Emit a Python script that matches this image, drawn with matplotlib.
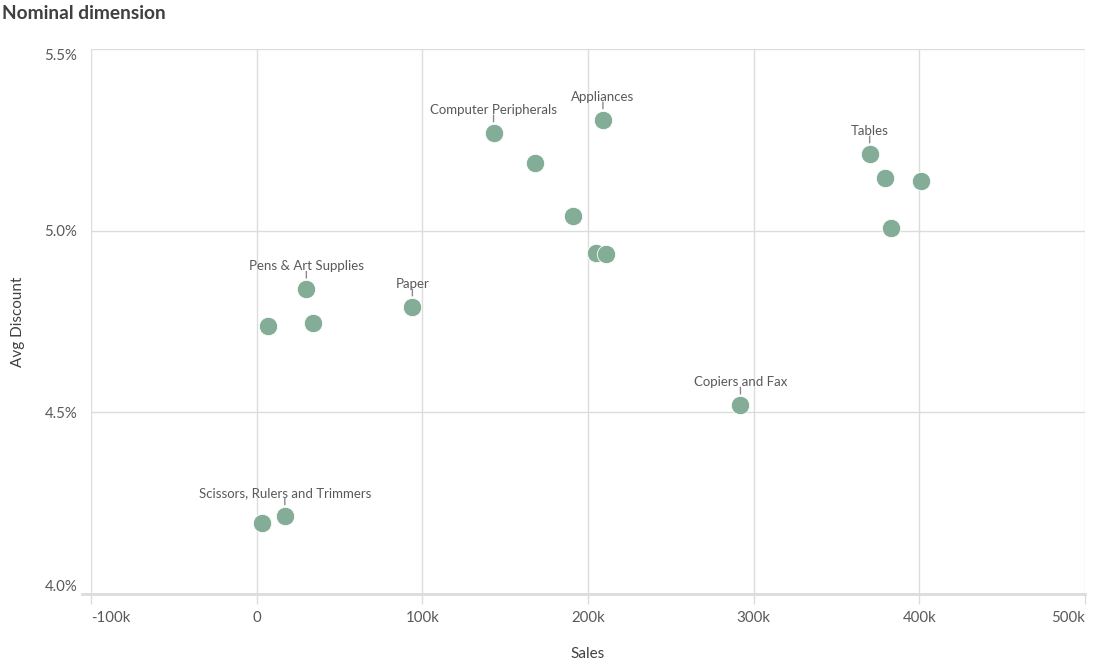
"""Scatter of avg discount vs sales with nominal-dimension labels."""

import matplotlib

matplotlib.use("Agg")
import matplotlib.pyplot as plt
from matplotlib.lines import Line2D
from matplotlib.ticker import FuncFormatter

plt.rcParams["font.family"] = ["Lato", "DejaVu Sans"]

# values
sales = [209e3, 143e3, 168e3, 191e3, 205e3, 211e3, 370e3, 379e3, 401e3,
         383e3, 292e3, 94e3, 30e3, 7e3, 34e3, 17e3, 3e3]
avg_discount = [5.305, 5.269, 5.186, 5.040, 4.938, 4.936, 5.211, 5.145, 5.137,
                5.007, 4.520, 4.790, 4.839, 4.738, 4.746, 4.215, 4.195]
point_labels = ["Appliances", "Computer Peripherals", None, None, None, None,
                "Tables", None, None, None, "Copiers and Fax", "Paper",
                "Pens & Art Supplies", None, None,
                "Scissors, Rulers and Trimmers", None]
x_ticks = [-100e3, 0, 100e3, 200e3, 300e3, 400e3, 500e3]
y_ticks = [4.0, 4.5, 5.0, 5.5]

POINT = "#83ad97"
GRID = "#dcdcdc"
TEXT = "#595959"

fig = plt.figure(figsize=(11, 6.65), dpi=100)
ax = fig.add_axes([0.0827, 0.1068, 0.9037, 0.8195])

ax.scatter(sales, avg_discount, s=175, color=POINT, edgecolor="white",
           linewidth=0.6, zorder=3)

for x, y, name in zip(sales, avg_discount, point_labels):
    if not name:
        continue
    ax.annotate(name, xy=(x, y), xytext=(0, 16.5), textcoords="offset points",
                ha="center", va="center", fontsize=9.5, color=TEXT, zorder=4)
    ax.annotate("", xy=(x, y), xytext=(0, 12.8), textcoords="offset points",
                arrowprops=dict(arrowstyle="-", color="#8a8a8a", lw=1,
                                shrinkA=0, shrinkB=8), zorder=4)

ax.set_xlim(x_ticks[0], x_ticks[-1])
ax.set_ylim(y_ticks[0], y_ticks[-1])
ax.set_xticks(x_ticks)
ax.set_yticks(y_ticks)
ax.xaxis.set_major_formatter(
    FuncFormatter(lambda v, _: "0" if v == 0 else f"{v / 1e3:.0f}k"))
ax.yaxis.set_major_formatter(FuncFormatter(lambda v, _: f"{v:.1f}%"))

ax.grid(True, color=GRID, linewidth=1)
ax.set_axisbelow(True)
for spine in ax.spines.values():
    spine.set_visible(False)

ax.tick_params(axis="x", length=7, width=1, color=GRID, labelsize=10.8,
               labelcolor=TEXT, pad=5)
ax.tick_params(axis="y", length=0, labelsize=10.8, labelcolor=TEXT, pad=10)

xlabels = ax.get_xticklabels()
xlabels[0].set_ha("left")
xlabels[-1].set_ha("right")
ylabels = ax.get_yticklabels()
ylabels[0].set_va("bottom")
ylabels[-1].set_va("top")

# bottom axis line, running a little past the left edge
ax.add_line(Line2D([-0.009, 1], [0, 0], transform=ax.transAxes, color=GRID,
                   linewidth=2, clip_on=False, zorder=2))

ax.set_xlabel("Sales", fontsize=11, color="#404040", labelpad=16)
ax.set_ylabel("Avg Discount", fontsize=11, color="#404040", labelpad=14)

fig.text(0.002, 0.98, "Nominal dimension", fontsize=13.8, fontweight="bold",
         color="#404040", ha="left", va="center")

fig.savefig("out.png", dpi=100)
plt.close(fig)
